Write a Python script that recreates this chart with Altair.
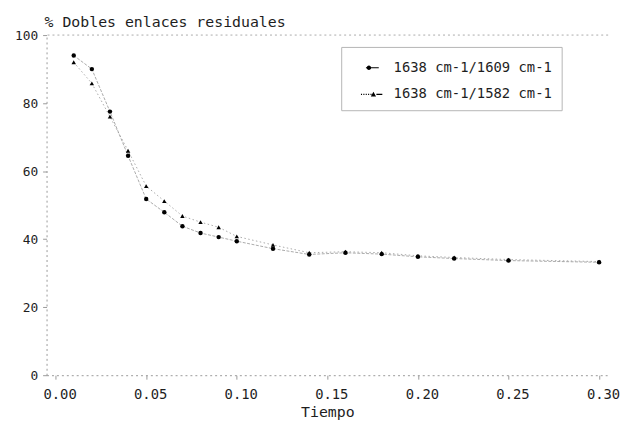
import altair as alt
import pandas as pd

# ---- data ----
tiempo = [0.01, 0.02, 0.03, 0.04, 0.05, 0.06, 0.07, 0.08, 0.09, 0.10,
          0.12, 0.14, 0.16, 0.18, 0.20, 0.22, 0.25, 0.30]
serie_1609 = [94.0, 90.0, 77.5, 64.5, 51.8, 47.9, 43.8, 41.8, 40.6, 39.4,
              37.2, 35.5, 36.0, 35.6, 34.8, 34.3, 33.7, 33.2]
serie_1582 = [92.0, 85.8, 76.0, 66.0, 55.6, 51.2, 46.8, 45.0, 43.5, 40.8,
              38.3, 36.0, 36.3, 36.0, 35.1, 34.6, 34.0, 33.4]
series = ["1638 cm-1/1609 cm-1", "1638 cm-1/1582 cm-1"]
x_ticks = [0.0, 0.05, 0.10, 0.15, 0.20, 0.25, 0.30]
y_ticks = [0, 20, 40, 60, 80, 100]
borde_superior = [100]

rows = []
for t, a, b in zip(tiempo, serie_1609, serie_1582):
    rows.append({"Tiempo": t, "valor": a, "serie": series[0]})
    rows.append({"Tiempo": t, "valor": b, "serie": series[1]})
df = pd.DataFrame(rows)

FONT = "DejaVu Sans Mono"
INK = "#1e1e1e"

x_enc = alt.X(
    "Tiempo:Q",
    scale=alt.Scale(domain=[-0.005, 0.305], nice=False, zero=False),
    axis=alt.Axis(values=x_ticks, format=".2f", title="Tiempo", grid=False,
                  labelOffset=4, labelPadding=9, labelFontSize=14,
                  titleFontSize=15, titlePadding=3),
)
y_enc = alt.Y(
    "valor:Q",
    scale=alt.Scale(domain=[0, 100], nice=False),
    axis=alt.Axis(values=y_ticks, title=None, grid=False,
                  labelPadding=5, labelFontSize=13),
)

base = alt.Chart(df).encode(x=x_enc, y=y_enc)

lines = base.mark_line(strokeWidth=0.9, color="#a0a0a0").encode(
    strokeDash=alt.StrokeDash(
        "serie:N",
        scale=alt.Scale(domain=series, range=[[3, 1.5], [1.5, 2.5]]),
        legend=None,
    )
)

points = base.mark_point(filled=True, color="black", opacity=1, size=20).encode(
    shape=alt.Shape(
        "serie:N",
        scale=alt.Scale(domain=series, range=["circle", "triangle-up"]),
        legend=None,
    )
)

# legend symbols: line + marker drawn as custom paths
sym_1609 = ("M-0.58,-0.045H0.5V0.045H-0.58Z "
            "M-0.14,0A0.19,0.19 0 1,1 -0.52,0A0.19,0.19 0 1,1 -0.14,0Z")
sym_1582 = ("M-1,-0.045h0.09v0.09h-0.09Z M-0.8,-0.045h0.09v0.09h-0.09Z "
            "M-0.6,-0.045h0.09v0.09h-0.09Z M-0.4,-0.045h0.09v0.09h-0.09Z "
            "M-0.2,-0.045h0.09v0.09h-0.09Z "
            "M0.05,-0.22L0.27,0.17L-0.17,0.17Z "
            "M0.3,-0.045H0.8V0.045H0.3Z")

legend_layer = alt.Chart(df).mark_point(filled=True, color="black", opacity=0).encode(
    x="Tiempo:Q",
    y="valor:Q",
    shape=alt.Shape(
        "serie:N",
        scale=alt.Scale(domain=series, range=[sym_1609, sym_1582]),
        legend=alt.Legend(
            title=None, orient="none", legendX=298, legendY=12,
            symbolSize=576, symbolOpacity=1, symbolFillColor="black",
            symbolStrokeWidth=0,
            labelFont=FONT, labelFontSize=14, labelColor=INK, labelLimit=400,
            padding=9, symbolOffset=11, labelOffset=9, rowPadding=8,
            strokeColor="#b5b5b5",
        ),
    ),
)

top_rule = alt.Chart(pd.DataFrame({"valor": borde_superior})).mark_rule(
    color="#aaaaaa", strokeDash=[2, 3], strokeWidth=1
).encode(y="valor:Q")

chart = (
    alt.layer(top_rule, lines, points, legend_layer)
    .resolve_scale(shape="independent")
    .properties(
        width=568,
        height=344,
        autosize=alt.AutoSizeParams(type="none"),
        padding={"left": 39, "top": 25, "right": 13, "bottom": 49},
        title=alt.TitleParams(
            "% Dobles enlaces residuales", anchor="start", frame="group",
            font=FONT, fontSize=15, fontWeight="normal", color=INK,
            dx=-2, dy=5, offset=4,
        ),
    )
    .configure_view(stroke=None)
    .configure_axis(
        labelFont=FONT, titleFont=FONT, labelColor=INK, titleColor=INK,
        titleFontWeight="normal", domainColor="#9a9a9a", domainDash=[2, 3],
        tickColor="#9a9a9a", tickSize=4,
    )
)

chart.save("out.html", embed_options={"renderer": "svg", "actions": False})
